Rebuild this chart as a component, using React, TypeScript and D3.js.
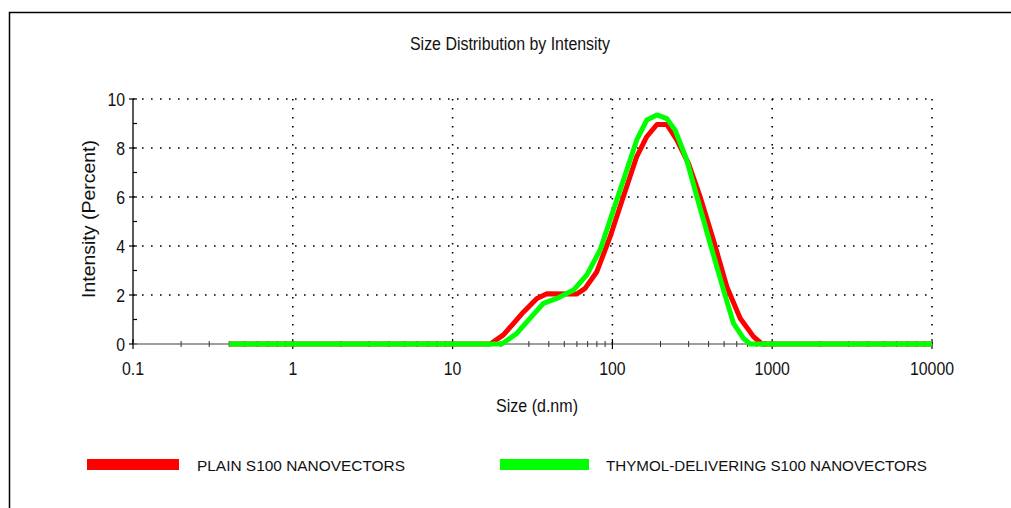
import React from "react";
import * as d3 from "d3";

const xTicks = [0.1, 1, 10, 100, 1000, 10000];
const xTickLabels = ["0.1", "1", "10", "100", "1000", "10000"];
const yTicks = [0, 2, 4, 6, 8, 10];
const yMinorTicks = [1, 3, 5, 7, 9];

const plainSizes = [0.4, 17.2, 20.8, 27.7, 33.7, 38.9, 59.9, 67.5, 79.9, 96.8, 117, 142, 164, 190, 219, 253, 299, 354, 429, 520, 630, 764, 862, 10000];
const plainValues = [0, 0, 0.37, 1.3, 1.86, 2.05, 2.04, 2.27, 2.95, 4.38, 6.01, 7.65, 8.46, 8.96, 8.96, 8.33, 7.37, 6.01, 4.24, 2.34, 1.05, 0.3, 0, 0];

const thymolSizes = [0.4, 20.3, 25.2, 30.5, 37.0, 44.9, 57.1, 69.2, 83.8, 101.5, 123, 142, 164, 190, 219, 247, 292, 338, 409, 496, 573, 661, 728, 10000];
const thymolValues = [0, 0, 0.43, 1.05, 1.66, 1.86, 2.2, 2.82, 3.84, 5.47, 7.1, 8.33, 9.14, 9.35, 9.2, 8.73, 7.51, 6.01, 4.1, 2.2, 0.84, 0.23, 0, 0];

const seriesNames = ["PLAIN S100 NANOVECTORS", "THYMOL-DELIVERING S100 NANOVECTORS"];
const seriesColors = ["#ff0000", "#00ff00"];

export default function App() {
  const W = 1011, H = 508;
  const x = d3.scaleLog().domain([0.1, 10000]).range([133, 932]);
  const y = d3.scaleLinear().domain([0, 10]).range([344, 99]);
  const line = d3.line<[number, number]>().x(d => x(d[0])).y(d => y(d[1]));
  const plain = plainSizes.map((s, i) => [s, plainValues[i]] as [number, number]);
  const thymol = thymolSizes.map((s, i) => [s, thymolValues[i]] as [number, number]);
  const minorX: number[] = [];
  for (let e = -1; e < 4; e++) for (let k = 2; k <= 9; k++) minorX.push(k * Math.pow(10, e));
  const font = "Liberation Sans, Arial, sans-serif";
  const grid = { stroke: "#000", strokeWidth: 1.6, strokeDasharray: "1.6 7.4" };
  const txt = "#111";
  return (
    <svg width={W} height={H} style={{ position: "fixed", left: 0, top: 0, background: "#fff" }} fontFamily={font}>
      <rect x={0} y={0} width={W} height={H} fill="#fff" />
      <path d={`M9.5,${H} L9.5,12.5 L${W},12.5`} fill="none" stroke="#000" strokeWidth={1.5} />
      <text x={510} y={50} textAnchor="middle" fontSize={18} textLength={200} lengthAdjust="spacingAndGlyphs" fill={txt}>Size Distribution by Intensity</text>
      {yTicks.filter(v => v > 0).map(v => (
        <line key={"gy" + v} x1={x(0.1)} x2={x(10000)} y1={y(v)} y2={y(v)} {...grid} />
      ))}
      {xTicks.filter(v => v > 0.1).map(v => (
        <line key={"gx" + v} x1={x(v)} x2={x(v)} y1={y(10)} y2={y(0)} {...grid} />
      ))}
      <line x1={x(0.1)} x2={x(0.1)} y1={y(10)} y2={y(0)} stroke="#000" strokeWidth={1.3} />
      {yTicks.map(v => (
        <line key={"ty" + v} x1={x(0.1) - 4} x2={x(0.1) + 4} y1={y(v)} y2={y(v)} stroke="#000" strokeWidth={1.2} />
      ))}
      {yMinorTicks.map(v => (
        <line key={"tmy" + v} x1={x(0.1)} x2={x(0.1) + 4} y1={y(v)} y2={y(v)} stroke="#000" strokeWidth={1.2} />
      ))}
      {yTicks.map(v => (
        <g key={"ly" + v} transform={`translate(125,${y(v) + 6.5}) scale(0.88,1)`}>
          <text x={0} y={0} textAnchor="end" fontSize={18} fill={txt}>{v}</text>
        </g>
      ))}
      <line x1={x(0.1)} x2={x(10000)} y1={y(0)} y2={y(0)} stroke="#808080" strokeWidth={1.6} />
      {minorX.map(v => (
        <line key={"mx" + v} x1={x(v)} x2={x(v)} y1={y(0) - 3} y2={y(0) + 3} stroke="#333" strokeWidth={1} />
      ))}
      {xTicks.map(v => (
        <line key={"tx" + v} x1={x(v)} x2={x(v)} y1={y(0) - 5} y2={y(0) + 5} stroke="#000" strokeWidth={1.2} />
      ))}
      {xTicks.map((v, i) => (
        <g key={"lx" + v} transform={`translate(${x(v)},375) scale(0.88,1)`}>
          <text x={0} y={0} textAnchor="middle" fontSize={18} fill={txt}>{xTickLabels[i]}</text>
        </g>
      ))}
      <text x={537} y={412} textAnchor="middle" fontSize={18} textLength={82} lengthAdjust="spacingAndGlyphs" fill={txt}>Size (d.nm)</text>
      <text transform="translate(95,219) rotate(-90)" textAnchor="middle" fontSize={18} textLength={158} lengthAdjust="spacingAndGlyphs" fill={txt}>Intensity (Percent)</text>
      <path d={line(plain) || ""} fill="none" stroke={seriesColors[0]} strokeWidth={5} strokeLinejoin="round" />
      <path d={line(thymol) || ""} fill="none" stroke={seriesColors[1]} strokeWidth={5} strokeLinejoin="round" />
      <rect x={87} y={459} width={92} height={11} fill={seriesColors[0]} />
      <text x={197} y={470.5} fontSize={15.5} textLength={208} lengthAdjust="spacingAndGlyphs" fill={txt}>{seriesNames[0]}</text>
      <rect x={500} y={459} width={89} height={11} fill={seriesColors[1]} />
      <text x={606} y={470.5} fontSize={15.5} textLength={321} lengthAdjust="spacingAndGlyphs" fill={txt}>{seriesNames[1]}</text>
    </svg>
  );
}
